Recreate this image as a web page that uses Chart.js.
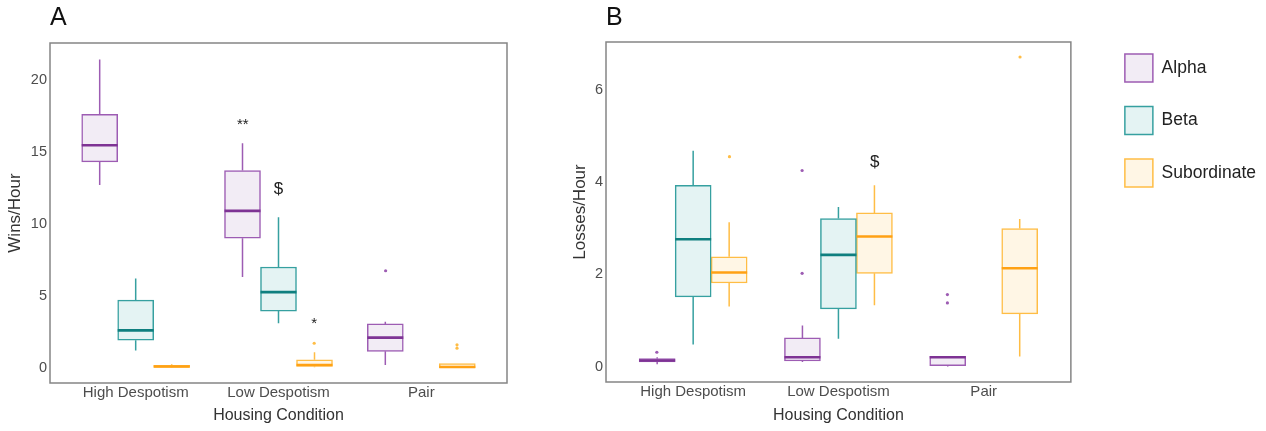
<!DOCTYPE html>
<html>
<head>
<meta charset="utf-8">
<script src="https://cdn.jsdelivr.net/npm/chart.js@4.4.1/dist/chart.umd.min.js"></script>
<style>
  body { margin: 0; background: #fff; }
  .panel { position: absolute; top: 0; }
  #wrapA { left: 0; }
  #wrapB { left: 560px; }
</style>
</head>
<body>
<div class="panel" id="wrapA"><canvas id="chartA" width="560" height="431"></canvas></div>
<div class="panel" id="wrapB"><canvas id="chartB" width="706" height="431"></canvas></div>
<script>
const conditions = ['High Despotism', 'Low Despotism', 'Pair'];
const ranks = ['Alpha', 'Beta', 'Subordinate'];

// each entry: [lower whisker, Q1, median, Q3, upper whisker], one per condition (null = no group)
const winsAlpha = [[12.7, 14.3, 15.45, 17.6, 21.4], [6.3, 9.0, 10.9, 13.7, 15.6], [0.2, 1.15, 2.1, 3.05, 3.2]];
const winsBeta = [[1.2, 1.92, 2.6, 4.7, 6.2], [3.1, 3.94, 5.26, 7.0, 10.46], null];
const winsSub = [[0, 0.03, 0.1, 0.17, 0.25], [0.05, 0.1, 0.2, 0.56, 1.09], [0, 0.02, 0.06, 0.3, 0.3]];
const winsAlphaOut = [[], [], [6.74]];
const winsBetaOut = [[], [], []];
const winsSubOut = [[], [1.71], [1.37, 1.6]];
const winsTicks = [0, 5, 10, 15, 20];
const winsMarkText = ['**', '$', '*'];
const winsMarkCond = [2, 2, 2];
const winsMarkRank = [0, 1, 2];
const winsMarkValue = [16.85, 12.4, 3.06];

const lossAlpha = [[0.05, 0.1, 0.13, 0.17, 0.2], [0.1, 0.12, 0.2, 0.62, 0.89], [0, 0.02, 0.2, 0.22, 0.22]];
const lossBeta = [[0.48, 1.51, 2.76, 3.93, 4.68], [0.6, 1.25, 2.42, 3.21, 3.46], null];
const lossSub = [[1.3, 1.81, 2.04, 2.38, 3.13], [1.33, 2.02, 2.82, 3.33, 3.93], [0.22, 1.14, 2.13, 2.99, 3.2]];
const lossAlphaOut = [[0.31], [2.02, 4.25], [1.38, 1.56]];
const lossBetaOut = [[], [], []];
const lossSubOut = [[4.55], [], [6.71]];
const lossTicks = [0, 2, 4, 6];
const lossMarkText = ['$'];
const lossMarkCond = [2];
const lossMarkRank = [2];
const lossMarkValue = [4.42];

const strokes = ['#9d5cb3', '#36a0a0', '#ffbd45'];
const medians = ['#7e3394', '#0f7f7f', '#ffa114'];
const fills = ['#f2ecf5', '#e4f3f3', '#fff6e5'];
const dodge = [-0.25, 0, 0.25];
const FONT = "'Liberation Sans', Arial, sans-serif";

function buildDatasets(stats, outs) {
  const ds = [];
  ranks.forEach((rank, r) => {
    ds.push({
      type: 'bar',
      label: rank,
      stack: 's' + r,
      stats: stats[r],
      medianColor: medians[r],
      data: conditions.map((c, i) => ({ x: i + 1, y: stats[r][i] ? [stats[r][i][1], stats[r][i][3]] : null })),
      backgroundColor: fills[r],
      borderColor: strokes[r],
      borderWidth: 1.5,
      borderSkipped: false,
      barThickness: 36
    });
  });
  ranks.forEach((rank, r) => {
    const pts = [];
    outs[r].forEach((vals, i) => vals.forEach(v => pts.push({ x: i + 1 + dodge[r], y: v })));
    ds.push({
      type: 'scatter',
      label: rank + ' outliers',
      data: pts,
      pointRadius: 1.6,
      pointBorderWidth: 0,
      backgroundColor: strokes[r],
      borderColor: strokes[r]
    });
  });
  return ds;
}

// whiskers and median lines on top of the floating bars
const boxParts = {
  id: 'boxParts',
  afterDatasetsDraw(chart) {
    const ctx = chart.ctx, y = chart.scales.y;
    chart.data.datasets.forEach((ds, di) => {
      if (!ds.stats) return;
      chart.getDatasetMeta(di).data.forEach((bar, i) => {
        const s = ds.stats[i];
        if (!s) return;
        const half = bar.width / 2;
        ctx.save();
        ctx.strokeStyle = ds.borderColor;
        ctx.lineWidth = 1.5;
        ctx.beginPath();
        ctx.moveTo(bar.x, y.getPixelForValue(s[3]));
        ctx.lineTo(bar.x, y.getPixelForValue(s[4]));
        ctx.moveTo(bar.x, y.getPixelForValue(s[1]));
        ctx.lineTo(bar.x, y.getPixelForValue(s[0]));
        ctx.stroke();
        const my = y.getPixelForValue(s[2]);
        ctx.strokeStyle = ds.medianColor;
        ctx.lineWidth = 2.6;
        ctx.beginPath();
        ctx.moveTo(bar.x - half, my);
        ctx.lineTo(bar.x + half, my);
        ctx.stroke();
        ctx.restore();
      });
    });
  }
};

const frame = {
  id: 'frame',
  afterDraw(chart) {
    const a = chart.chartArea, ctx = chart.ctx;
    ctx.save();
    ctx.strokeStyle = '#858585';
    ctx.lineWidth = 1.5;
    ctx.strokeRect(a.left, a.top, a.right - a.left, a.bottom - a.top);
    ctx.restore();
  }
};

function marks(text, cond, rank, value) {
  return {
    id: 'marks',
    afterDatasetsDraw(chart) {
      const ctx = chart.ctx, x = chart.scales.x, y = chart.scales.y;
      ctx.save();
      ctx.fillStyle = '#222';
      ctx.textAlign = 'center';
      ctx.textBaseline = 'middle';
      text.forEach((t, i) => {
        ctx.font = (t === '$' ? '17px ' : '15px ') + FONT;
        ctx.fillText(t, x.getPixelForValue(cond[i] + dodge[rank[i]]), y.getPixelForValue(value[i]));
      });
      ctx.restore();
    }
  };
}

function xAxis(height, titlePad) {
  return {
    type: 'linear', min: 0.4, max: 3.6, offset: false,
    afterBuildTicks: s => { s.ticks = conditions.map((c, i) => ({ value: i + 1 })); },
    afterFit: s => { s.height = height; },
    grid: { display: false, drawTicks: false },
    border: { display: false },
    ticks: { padding: 1, color: '#4d4d4d', font: { family: FONT, size: 15 }, callback: v => conditions[v - 1] },
    title: { display: true, text: 'Housing Condition', color: '#333', font: { family: FONT, size: 16 }, padding: { top: 0, bottom: titlePad } }
  };
}

function yAxis(title, min, max, tickVals, width, titlePad) {
  return {
    type: 'linear', min: min, max: max, stacked: false,
    afterBuildTicks: s => { s.ticks = tickVals.map(v => ({ value: v })); },
    afterFit: s => { s.width = width; },
    grid: { display: false, drawTicks: false },
    border: { display: false },
    ticks: { padding: 3, color: '#4d4d4d', font: { family: FONT, size: 14.5 } },
    title: { display: true, text: title, color: '#333', font: { family: FONT, size: 17 }, padding: { top: titlePad, bottom: 0 } }
  };
}

function panelTitle(letter, padBottom) {
  return { display: true, text: letter, align: 'start', fullSize: false, color: '#111',
    font: { family: FONT, size: 25, weight: 'normal' }, padding: { top: 3, bottom: padBottom } };
}

new Chart(document.getElementById('chartA'), {
  type: 'bar',
  data: { datasets: buildDatasets([winsAlpha, winsBeta, winsSub], [winsAlphaOut, winsBetaOut, winsSubOut]) },
  options: {
    responsive: false, animation: false, events: [],
    layout: { padding: { left: 0, right: 53, top: 0, bottom: 0 } },
    plugins: { legend: { display: false }, tooltip: { enabled: false }, title: panelTitle('A', 10) },
    scales: { x: xAxis(48, 6), y: yAxis('Wins/Hour', -1.05, 22.55, winsTicks, 50, 5) }
  },
  plugins: [boxParts, frame, marks(winsMarkText, winsMarkCond, winsMarkRank, winsMarkValue)]
});

new Chart(document.getElementById('chartB'), {
  type: 'bar',
  data: { datasets: buildDatasets([lossAlpha, lossBeta, lossSub], [lossAlphaOut, lossBetaOut, lossSubOut]) },
  options: {
    responsive: false, animation: false, events: [],
    layout: { padding: { left: 0, right: 0, top: 0, bottom: 0 } },
    plugins: {
      tooltip: { enabled: false },
      title: panelTitle('B', 9),
      legend: {
        position: 'right', align: 'start', maxWidth: 220,
        title: { display: true, text: ' ', font: { size: 14 }, padding: { top: 12.7, bottom: 0 } },
        labels: {
          boxWidth: 28, boxHeight: 28, padding: 24.5, color: '#222',
          font: { family: FONT, size: 17.5 },
          filter: (item, data) => !!data.datasets[item.datasetIndex].stats
        }
      }
    },
    scales: {
      x: xAxis(49, 6),
      y: yAxis('Losses/Hour', -0.335, 7.035, lossTicks, 46, 10),
      gap: {
        position: 'right', display: true,
        afterFit: s => { s.width = 29.5; },
        grid: { display: false }, border: { display: false }, ticks: { display: false }
      }
    }
  },
  plugins: [boxParts, frame, marks(lossMarkText, lossMarkCond, lossMarkRank, lossMarkValue)]
});
</script>
</body>
</html>
